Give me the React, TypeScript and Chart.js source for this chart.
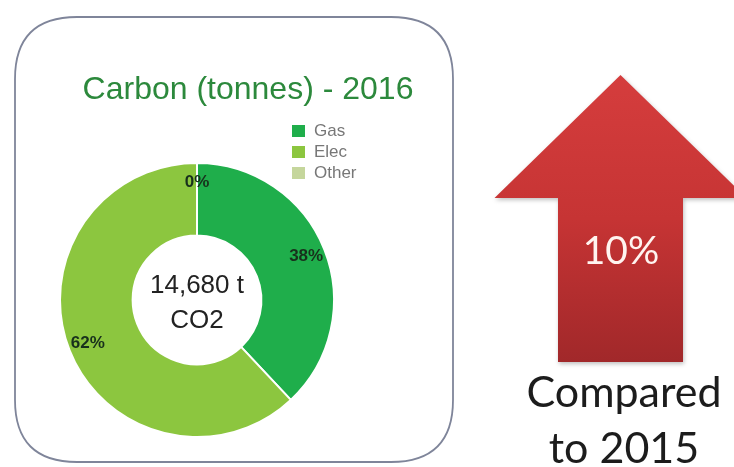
import React, { useEffect, useRef } from 'react';
import { Chart, registerables } from 'chart.js';

Chart.register(...registerables);

const categories = ['Gas', 'Elec', 'Other'];
const sharePercent = [38, 62, 0];
const segmentColors = ['#1fae4b', '#8cc63f', '#c5d69c'];
const chartTitle = 'Carbon (tonnes) - 2016';
const centerLines = ['14,680 t', 'CO2'];
const changePercent = 10;
const changeLines = ['Compared', 'to 2015'];

function roundRectPath(ctx: CanvasRenderingContext2D, x: number, y: number, w: number, h: number, r: number) {
  ctx.beginPath();
  ctx.moveTo(x + r, y);
  ctx.lineTo(x + w - r, y);
  ctx.quadraticCurveTo(x + w, y, x + w, y + r);
  ctx.lineTo(x + w, y + h - r);
  ctx.quadraticCurveTo(x + w, y + h, x + w - r, y + h);
  ctx.lineTo(x + r, y + h);
  ctx.quadraticCurveTo(x, y + h, x, y + h - r);
  ctx.lineTo(x, y + r);
  ctx.quadraticCurveTo(x, y, x + r, y);
  ctx.closePath();
}

const decorPlugin = {
  id: 'decor',
  beforeDraw(chart: any) {
    const ctx: CanvasRenderingContext2D = chart.ctx;
    ctx.save();
    ctx.fillStyle = '#ffffff';
    ctx.fillRect(0, 0, chart.width, chart.height);

    // rounded card
    roundRectPath(ctx, 15, 17, 438, 445, 62);
    ctx.fillStyle = '#ffffff';
    ctx.fill();
    ctx.strokeStyle = '#7f859a';
    ctx.lineWidth = 1.8;
    ctx.stroke();

    // arrow
    const cx = 620.5;
    const tipY = 75;
    const baseY = 198;
    const halfHead = 126;
    const halfShaft = 62.5;
    const bottom = 362;
    ctx.beginPath();
    ctx.moveTo(cx, tipY);
    ctx.lineTo(cx + halfHead, baseY);
    ctx.lineTo(cx + halfShaft, baseY);
    ctx.lineTo(cx + halfShaft, bottom);
    ctx.lineTo(cx - halfShaft, bottom);
    ctx.lineTo(cx - halfShaft, baseY);
    ctx.lineTo(cx - halfHead, baseY);
    ctx.closePath();
    const g = ctx.createLinearGradient(0, tipY, 0, bottom);
    g.addColorStop(0, '#d53d3d');
    g.addColorStop(0.5, '#c63434');
    g.addColorStop(1, '#a1282a');
    ctx.fillStyle = g;
    ctx.shadowColor = 'rgba(0,0,0,0.25)';
    ctx.shadowBlur = 4;
    ctx.shadowOffsetX = 1;
    ctx.shadowOffsetY = 2;
    ctx.fill();
    ctx.restore();
  },
  afterDatasetsDraw(chart: any) {
    const ctx: CanvasRenderingContext2D = chart.ctx;
    const meta = chart.getDatasetMeta(0);
    ctx.save();
    ctx.font = 'bold 17px "Liberation Sans", Arial, sans-serif';
    ctx.fillStyle = '#18301c';
    ctx.textAlign = 'center';
    ctx.textBaseline = 'middle';
    meta.data.forEach((arc: any, i: number) => {
      const p = arc.getProps(['x', 'y', 'startAngle', 'endAngle', 'innerRadius', 'outerRadius'], true);
      const mid = (p.startAngle + p.endAngle) / 2;
      const r = p.innerRadius + (p.outerRadius - p.innerRadius) * 0.73;
      const lx = p.x + Math.cos(mid) * r;
      const ly = p.y + Math.sin(mid) * r;
      ctx.fillText(`${sharePercent[i]}%`, lx, ly);
    });
    const first = meta.data[0];
    if (first) {
      ctx.font = '26px "Liberation Sans", Arial, sans-serif';
      ctx.fillStyle = '#222222';
      ctx.fillText(centerLines[0], first.x, first.y - 14);
      ctx.fillText(centerLines[1], first.x, first.y + 21);
    }
    ctx.restore();
  },
  afterDraw(chart: any) {
    const ctx: CanvasRenderingContext2D = chart.ctx;
    ctx.save();
    // title
    ctx.font = '32px "Liberation Sans", Arial, sans-serif';
    ctx.fillStyle = '#2c893c';
    ctx.textAlign = 'center';
    ctx.textBaseline = 'alphabetic';
    ctx.fillText(chartTitle, 248, 99);

    // legend
    const ds = chart.data.datasets[0];
    ctx.font = '17px "Liberation Sans", Arial, sans-serif';
    ctx.textAlign = 'left';
    ctx.textBaseline = 'middle';
    chart.data.labels.forEach((lab: string, i: number) => {
      const rowY = 131 + i * 21;
      ctx.fillStyle = ds.backgroundColor[i];
      ctx.fillRect(292, rowY - 6, 13, 12);
      ctx.fillStyle = '#777777';
      ctx.fillText(lab, 314, rowY);
    });

    // arrow texts
    ctx.textAlign = 'center';
    ctx.font = '39px Lato, "Open Sans", sans-serif';
    ctx.fillStyle = '#fff4f0';
    ctx.textBaseline = 'middle';
    ctx.fillText(`${changePercent}%`, 621, 251);
    ctx.font = '43px Lato, "Open Sans", sans-serif';
    ctx.fillStyle = '#1c1c1c';
    ctx.textBaseline = 'alphabetic';
    ctx.fillText(changeLines[0], 624, 407);
    ctx.fillText(changeLines[1], 624, 463);
    ctx.restore();
  },
};

export default function App() {
  const canvasRef = useRef<HTMLCanvasElement | null>(null);

  useEffect(() => {
    const canvas = canvasRef.current;
    if (!canvas) return;
    const chart = new Chart(canvas, {
      type: 'doughnut',
      data: {
        labels: categories,
        datasets: [
          {
            data: sharePercent,
            backgroundColor: segmentColors,
            borderColor: '#ffffff',
            borderWidth: 2,
          },
        ],
      },
      options: {
        responsive: false,
        maintainAspectRatio: false,
        devicePixelRatio: 1,
        animation: false,
        events: [],
        cutout: '47%',
        layout: {
          padding: { left: 59, right: 399, top: 162, bottom: 29 },
        },
        plugins: {
          legend: { display: false },
          title: { display: false },
          tooltip: { enabled: false },
        },
      },
      plugins: [decorPlugin],
    });
    return () => chart.destroy();
  }, []);

  return (
    <div style={{ position: 'fixed', left: 0, top: 0, width: 734, height: 467, background: '#fff' }}>
      <canvas ref={canvasRef} width={734} height={467} style={{ display: 'block', width: 734, height: 467 }} />
    </div>
  );
}
